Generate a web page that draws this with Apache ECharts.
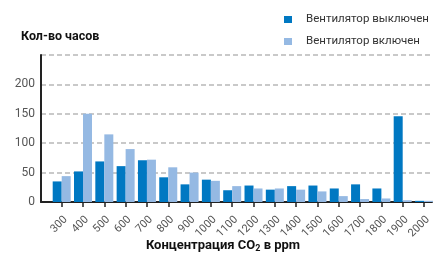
<!DOCTYPE html>
<html>
<head>
<meta charset="utf-8">
<script src="https://cdn.jsdelivr.net/npm/echarts@6/dist/echarts.min.js"></script>
<style>
  html, body { margin: 0; padding: 0; background: #fff; }
  #root { width: 443px; height: 254px; }
</style>
</head>
<body>
<div id="root"></div>
<script>
var categories = ['300', '400', '500', '600', '700', '800', '900', '1000', '1100', '1200',
  '1300', '1400', '1500', '1600', '1700', '1800', '1900', '2000'];
var fanOff = [35, 52, 69, 61, 71, 42, 30, 38, 20, 28, 21, 27, 28, 23, 30, 23, 146, 2];
var fanOn = [44, 150, 115, 90, 72, 59, 50, 36, 27, 23, 23, 21, 18, 10, 5, 6, 3, 2];
var seriesNames = ['Вентилятор выключен', 'Вентилятор включен'];
var yTicks = [0, 50, 100, 150, 200, 250];

var FONT = 'Roboto, "Liberation Sans", sans-serif';

(function () {
  var chart = echarts.init(document.getElementById('root'), null, { renderer: 'canvas' });
  var idx = categories.map(function (_, i) { return i; });
  var toPairs = function (arr) { return arr.map(function (v, i) { return [i, v]; }); };

  var option = {
    animation: false,
    textStyle: { fontFamily: FONT },
    title: [
      {
        text: 'Кол-во часов',
        left: 16,
        top: 25,
        textStyle: { fontFamily: FONT, fontSize: 12.5, fontWeight: 'bold', color: '#111' }
      },
      {
        // x axis caption, with subscript 2
        text: 'Концентрация CO{sub|2} в ppm',
        left: 223,
        textAlign: 'center',
        top: 238,
        padding: 0,
        textStyle: {
          fontFamily: FONT, fontSize: 13, fontWeight: 'bold', color: '#111',
          rich: { sub: { fontFamily: FONT, fontSize: 9, fontWeight: 'bold', color: '#111', padding: [6, 0, 0, 0] } }
        }
      }
    ],
    legend: {
      orient: 'vertical',
      left: 279,
      top: 7,
      itemWidth: 8,
      itemHeight: 7,
      itemGap: 7,
      icon: 'rect',
      textStyle: { fontFamily: FONT, fontSize: 11.5, color: '#333', padding: [0, 0, 0, 9], lineHeight: 15 },
      data: seriesNames
    },
    grid: { left: 41, right: 11, top: 55, bottom: 52, containLabel: false, outerBoundsMode: 'none' },
    xAxis: {
      type: 'value',
      min: -0.971,
      max: 17.375,
      axisLine: { onZero: false, lineStyle: { color: '#222', width: 2 } },
      axisTick: { show: true, length: 5, customValues: idx, lineStyle: { color: '#222', width: 1.5 } },
      axisLabel: {
        customValues: idx,
        rotate: 45,
        fontSize: 11,
        color: '#555',
        margin: 12,
        verticalAlign: 'top',
        formatter: function (v) { return categories[Math.round(v)]; }
      },
      splitLine: { show: false }
    },
    yAxis: {
      type: 'value',
      min: yTicks[0],
      max: yTicks[yTicks.length - 1],
      interval: 50,
      axisLine: { show: true, onZero: false, lineStyle: { color: '#222', width: 2 } },
      axisTick: { show: false },
      axisLabel: {
        fontSize: 12,
        color: '#555',
        margin: 6,
        showMaxLabel: false
      },
      splitLine: { lineStyle: { color: '#b8b8b8', width: 1.5, type: [5, 3] } }
    },
    series: [
      {
        name: seriesNames[0],
        type: 'bar',
        data: toPairs(fanOff),
        barWidth: 9,
        barGap: '0%',
        itemStyle: { color: '#0078c2' }
      },
      {
        name: seriesNames[1],
        type: 'bar',
        data: toPairs(fanOn),
        barWidth: 9,
        barGap: '0%',
        itemStyle: { color: '#95b9e3' }
      }
    ]
  };

  chart.setOption(option);
})();
</script>
</body>
</html>
